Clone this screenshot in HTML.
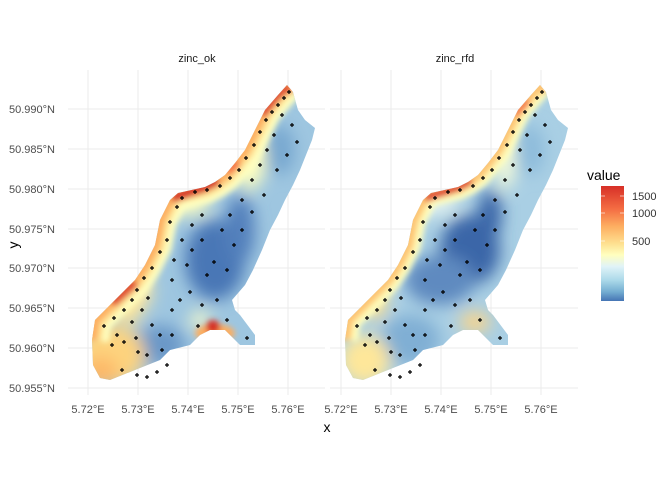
<!DOCTYPE html><html><head><style>body{margin:0;background:#fff}svg{font-family:"Liberation Sans",sans-serif}</style></head><body>
<svg width="672" height="480" viewBox="0 0 672 480">
<defs>
<filter id="b" x="-50%" y="-50%" width="200%" height="200%"><feGaussianBlur stdDeviation="8"/></filter>
<filter id="b2" x="-50%" y="-50%" width="200%" height="200%"><feGaussianBlur stdDeviation="3"/></filter>
<clipPath id="c1"><polygon id="sh" points="287,85 293,92 298,110 305,120 315,128 312,140 306,155 300,170 293,185 285,200 278,215 270,230 262,250 253,270 245,285 232,300 235,310 240,315 255,335 255,345 240,345 225,330 210,330 200,335 190,345 170,350 160,360 135,370 110,380 100,378 93,365 92,340 95,320 110,305 120,295 135,280 145,265 155,245 160,220 170,200 178,193 205,187 215,182 225,175 235,163 245,150 255,130 265,110 278,95"/></clipPath>
<clipPath id="c2"><use href="#sh" transform="translate(253,0)"/></clipPath>
<linearGradient id="lg" x1="0" y1="0" x2="0" y2="1"><stop offset="0" stop-color="#d73027"/><stop offset=".2" stop-color="#f46d43"/><stop offset=".35" stop-color="#fdae61"/><stop offset=".5" stop-color="#fee090"/><stop offset=".6" stop-color="#ffffbf"/><stop offset=".7" stop-color="#e0f3f8"/><stop offset=".82" stop-color="#abd9e9"/><stop offset=".92" stop-color="#74add1"/><stop offset="1" stop-color="#4575b4"/></linearGradient>
<polyline id="edge" points="92,340 95,320 110,305 120,295 135,280 145,265 155,245 160,220 170,200 178,193 205,187 215,182 225,175 235,163 245,150 255,130 265,110 278,95 287,85 293,92"/>
</defs>
<g stroke="#ebebeb" stroke-width="1">
<path d="M68,109H325M68,149H325M68,189H325M68,229H325M68,268H325M68,308H325M68,348H325M68,388H325M88,70V395M138,70V395M188,70V395M238,70V395M288,70V395"/>
<path d="M330,109H578M330,149H578M330,189H578M330,229H578M330,268H578M330,308H578M330,348H578M330,388H578M341,70V395M391,70V395M441,70V395M491,70V395M541,70V395"/>
</g>
<g clip-path="url(#c1)">
<rect x="80" y="80" width="250" height="310" fill="#9ec6e0"/>
<g filter="url(#b)">
<ellipse cx="215" cy="260" rx="30" ry="40" fill="#4a77b6"/>
<ellipse cx="240" cy="230" rx="15" ry="35" fill="#5380bc"/>
<ellipse cx="160" cy="345" rx="25" ry="20" fill="#6b98c8"/>
<ellipse cx="280" cy="150" rx="15" ry="25" fill="#78a8d0"/>
<ellipse cx="110" cy="355" rx="35" ry="30" fill="#fdd37e"/>
<ellipse cx="100" cy="372" rx="18" ry="15" fill="#fdb868"/>
<ellipse cx="128" cy="305" rx="15" ry="20" fill="#fde49a"/>
<ellipse cx="200" cy="320" rx="10" ry="8" fill="#ffffc8"/>
<ellipse cx="185" cy="205" rx="25" ry="10" fill="#ffffc0"/>
<ellipse cx="250" cy="160" rx="15" ry="30" fill="#ffffbf"/>
<ellipse cx="140" cy="290" rx="12" ry="20" fill="#ffe8a0"/>
</g>
<g filter="url(#b2)" fill="none">
<use href="#edge" stroke="#ffffbf" stroke-width="34"/>
<use href="#edge" stroke="#fee090" stroke-width="20"/>
<use href="#edge" stroke="#fdae61" stroke-width="10"/>
<polyline points="112,303 135,282" stroke="#e04a30" stroke-width="10"/>
<polyline points="172,198 205,187 218,180" stroke="#d73027" stroke-width="10"/>
<polyline points="228,172 238,162" stroke="#f46d43" stroke-width="8"/>
<polyline points="262,115 278,95 290,86" stroke="#e04a30" stroke-width="9"/>
<ellipse cx="215" cy="333" rx="20" ry="9" fill="#fdae61"/>
<circle cx="213" cy="327" r="7" fill="#d73027"/>
</g>
</g>
<g clip-path="url(#c2)">
<rect x="333" y="80" width="250" height="310" fill="#a9cfe4"/>
<g filter="url(#b)">
<ellipse cx="470" cy="250" rx="30" ry="35" fill="#3b66a8"/>
<ellipse cx="490" cy="215" rx="12" ry="25" fill="#3b66a8"/>
<ellipse cx="440" cy="280" rx="35" ry="25" fill="#5f8ac0"/>
<ellipse cx="410" cy="340" rx="30" ry="25" fill="#80afd4"/>
<ellipse cx="530" cy="150" rx="15" ry="25" fill="#8ebcdb"/>
<ellipse cx="365" cy="360" rx="25" ry="25" fill="#fee79a"/>
<ellipse cx="375" cy="300" rx="12" ry="20" fill="#fee090"/>
<ellipse cx="475" cy="322" rx="15" ry="10" fill="#fed586"/>
<ellipse cx="430" cy="205" rx="30" ry="10" fill="#e6f4f0"/>
<ellipse cx="505" cy="160" rx="10" ry="30" fill="#f5fbd8"/>
</g>
<g filter="url(#b2)" fill="none" transform="translate(253,0)">
<use href="#edge" stroke="#ffffbf" stroke-width="26"/>
<use href="#edge" stroke="#fee090" stroke-width="14"/>
<use href="#edge" stroke="#fdbf6f" stroke-width="7"/>
<polyline points="172,198 205,187 218,180" stroke="#e04a30" stroke-width="9"/>
<polyline points="262,115 275,100" stroke="#f46d43" stroke-width="7"/>
</g>
</g>
<g stroke="#000" stroke-width="1.2">
<path id="pp" d="M287,92h4M289,90v4M282,98h4M284,96v4M276,105h4M278,103v4M270,112h4M272,110v4M264,120h4M266,118v4M258,132h4M260,130v4M252,145h4M254,143v4M244,158h4M246,156v4M237,170h4M239,168v4M228,178h4M230,176v4M218,186h4M220,184v4M205,190h4M207,188v4M193,192h4M195,190v4M180,198h4M182,196v4M175,207h4M177,205v4M168,222h4M170,220v4M165,240h4M167,238v4M158,252h4M160,250v4M150,268h4M152,266v4M142,278h4M144,276v4M135,290h4M137,288v4M130,300h4M132,298v4M122,310h4M124,308v4M112,318h4M114,316v4M102,326h4M104,324v4M115,335h4M117,333v4M122,342h4M124,340v4M130,322h4M132,320v4M134,338h4M136,336v4M140,310h4M142,308v4M146,298h4M148,296v4M150,325h4M152,323v4M158,335h4M160,333v4M160,350h4M162,348v4M170,310h4M172,308v4M178,300h4M180,298v4M185,265h4M187,263v4M190,250h4M192,248v4M200,240h4M202,238v4M205,275h4M207,273v4M212,262h4M214,260v4M225,270h4M227,268v4M232,245h4M234,243v4M220,230h4M222,228v4M228,215h4M230,213v4M240,200h4M242,198v4M250,180h4M252,178v4M258,165h4M260,163v4M265,150h4M267,148v4M272,135h4M274,133v4M280,115h4M282,113v4M290,125h4M292,123v4M295,142h4M297,140v4M285,155h4M287,153v4M275,170h4M277,168v4M262,195h4M264,193v4M250,212h4M252,210v4M240,230h4M242,228v4M200,215h4M202,213v4M190,225h4M192,223v4M180,240h4M182,238v4M172,260h4M174,258v4M170,280h4M172,278v4M188,292h4M190,290v4M200,305h4M202,303v4M215,300h4M217,298v4M225,320h4M227,318v4M245,338h4M247,336v4M196,326h4M198,324v4M120,370h4M122,368v4M135,375h4M137,373v4M145,377h4M147,375v4M155,372h4M157,370v4M165,365h4M167,363v4M170,335h4M172,333v4M145,355h4M147,353v4M110,345h4M112,343v4M136,352h4M138,350v4"/>
<use href="#pp" transform="translate(253,0)"/>
</g>
<g font-size="11" fill="#4d4d4d">
<text x="55" y="113" text-anchor="end">50.990°N</text><text x="55" y="153" text-anchor="end">50.985°N</text><text x="55" y="193" text-anchor="end">50.980°N</text><text x="55" y="233" text-anchor="end">50.975°N</text><text x="55" y="272" text-anchor="end">50.970°N</text><text x="55" y="312" text-anchor="end">50.965°N</text><text x="55" y="352" text-anchor="end">50.960°N</text><text x="55" y="392" text-anchor="end">50.955°N</text>
<g text-anchor="middle"><text x="88" y="413">5.72°E</text><text x="138" y="413">5.73°E</text><text x="188" y="413">5.74°E</text><text x="238" y="413">5.75°E</text><text x="288" y="413">5.76°E</text>
<text x="341" y="413">5.72°E</text><text x="391" y="413">5.73°E</text><text x="441" y="413">5.74°E</text><text x="491" y="413">5.75°E</text><text x="541" y="413">5.76°E</text></g>
</g>
<g font-size="11" fill="#1a1a1a" text-anchor="middle"><text x="197" y="62">zinc_ok</text><text x="455" y="62">zinc_rfd</text></g>
<text x="327" y="432" font-size="14" text-anchor="middle">x</text>
<text x="18" y="245" font-size="14" text-anchor="middle" transform="rotate(-90 18 245)">y</text>
<text x="587" y="180" font-size="14">value</text>
<rect x="601" y="186" width="23" height="115" fill="url(#lg)"/>
<g stroke="#fff" stroke-opacity=".6"><path d="M601,196h4M620,196h4M601,213h4M620,213h4M601,241h4M620,241h4"/></g>
<g font-size="11" fill="#333"><text x="632" y="200">1500</text><text x="632" y="217">1000</text><text x="632" y="245">500</text></g>
</svg></body></html>
